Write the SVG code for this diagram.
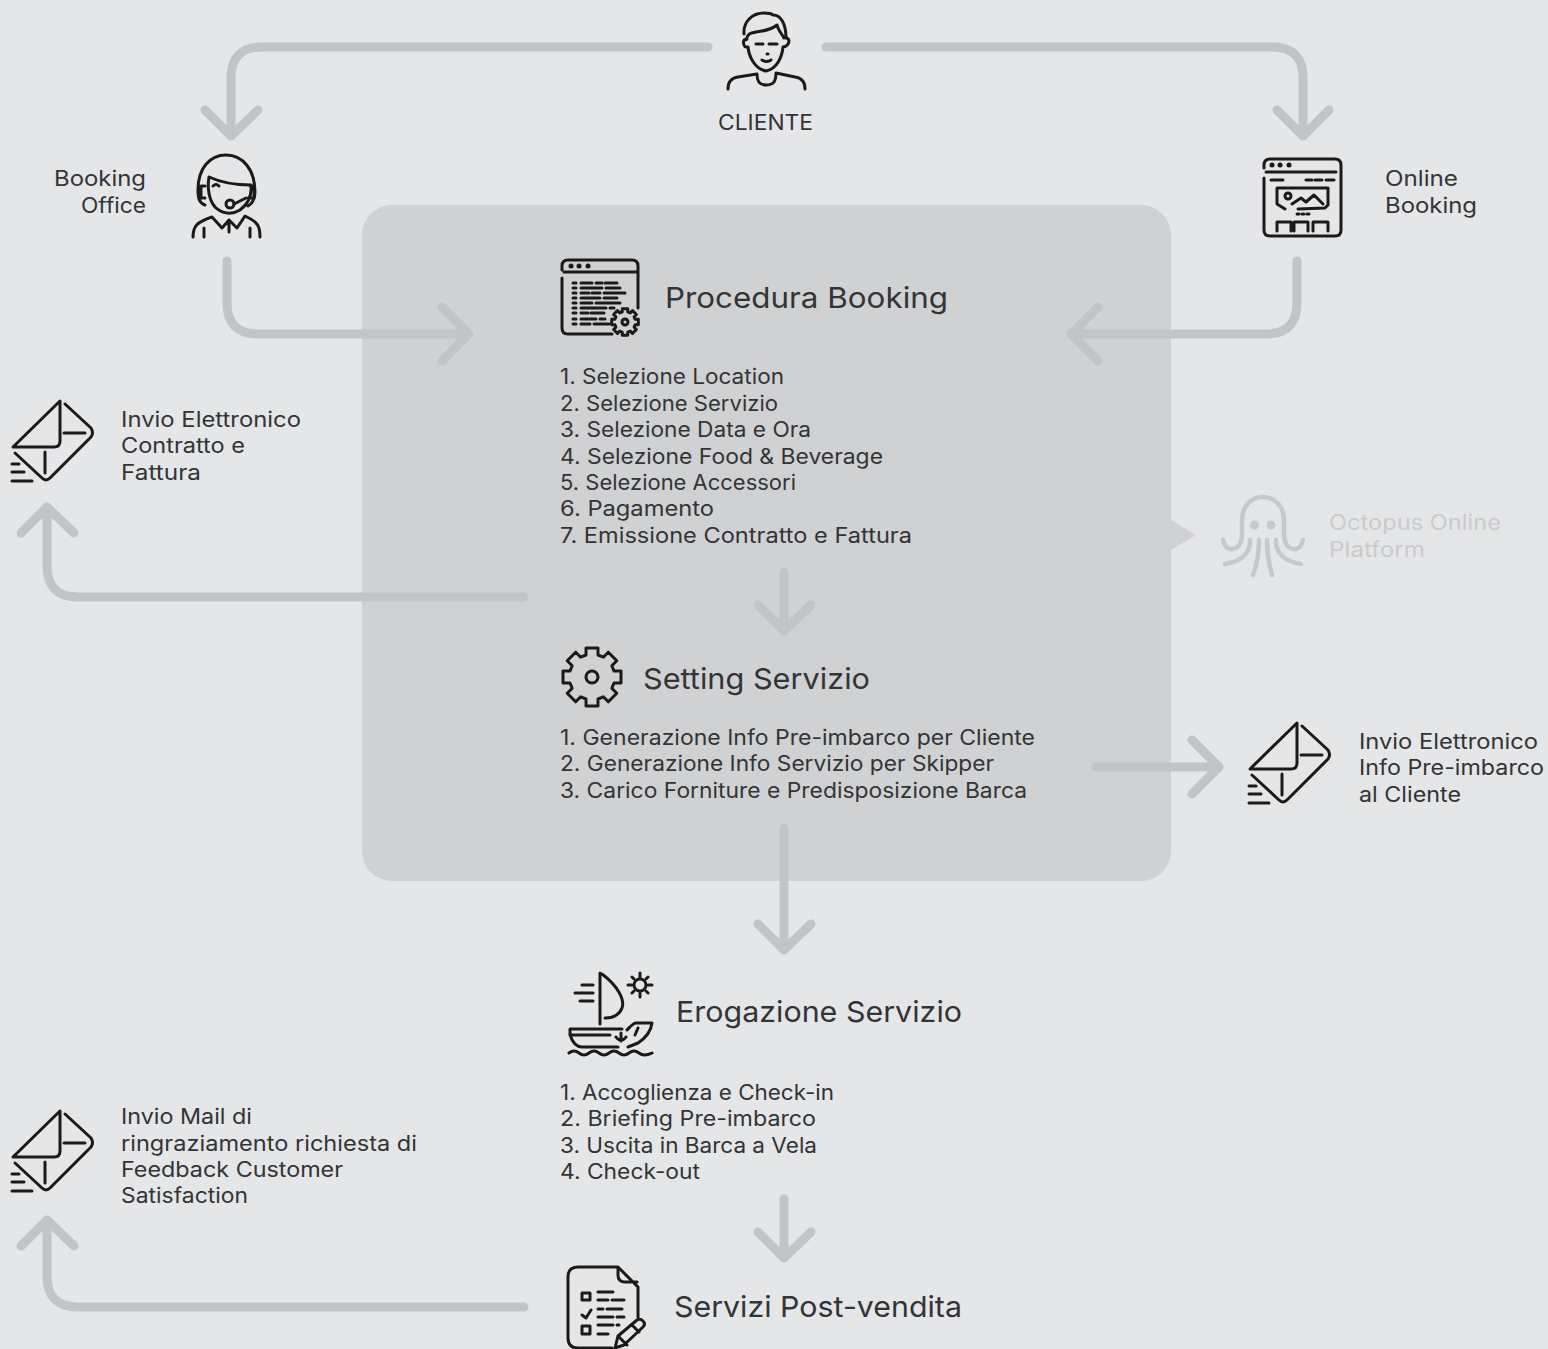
<svg xmlns="http://www.w3.org/2000/svg" width="1548" height="1349" viewBox="0 0 1548 1349">
<style>
text{font-family:"Inter","Liberation Sans",sans-serif;fill:#333436}
.b{font-size:21px}
.t{font-size:29px}
.o{fill:#c9cbcd}
.c{fill:none;stroke:#c2c4c6;stroke-width:9;stroke-linecap:round;stroke-linejoin:round}
.i{fill:none;stroke:#1a1a1a;stroke-width:3;stroke-linecap:round;stroke-linejoin:round}
.d{stroke-width:5}
</style>
<defs>
<g id="env"><path d="M60 401V441Q60 447 54 447H13ZM65 404L91 428Q94 433 91 437L50 478Q46 482 42 478L15 453M64 433H85M45 452V473M12 464H19M12 472H24M12 481H32"/></g>
<path id="gear" d="M-6 -29H6V-22L11.3 -19.800L16.300 -24.800L24.800 -16.300L19.800 -11.300L22 -6H29V6H22L19.800 11.300L24.800 16.300L16.300 24.800L11.300 19.800L6 22V29H-6V22L-11.300 19.800L-16.300 24.800L-24.800 16.300L-19.800 11.300L-22 6H-29V-6H-22L-19.800 -11.300L-24.800 -16.300L-16.300 -24.800L-11.300 -19.800L-6 -22Z"/>
</defs>
<rect width="1548" height="1349" fill="#e5e6e8"/>
<g id="box"><rect x="362" y="205" width="809" height="676" rx="30" fill="#d0d1d3"/><path d="M1171 520L1196 535L1171 550Z" fill="#d0d1d3"/></g>
<g id="connectors" class="c">
<path d="M708 47H262Q231 47 231 78V135M205 110L231 136L258 110"/>
<path d="M826 47H1272Q1303 47 1303 78V135M1277 110L1303 136L1329 110"/>
<path d="M227 261V303Q227 334 258 334H468M442 307L469 334L442 361"/>
<path d="M1297 261V303Q1297 334 1266 334H1072M1098 307L1071 334L1098 361"/>
<path d="M524 597H78Q47 597 47 566V507M21 533L47 507L74 533"/>
<path d="M784 572V630M758 605L784 631L811 605"/>
<path d="M1096 767H1219M1192 740L1219 767L1192 794"/>
<path d="M784 828V950M758 924L784 950L811 924"/>
<path d="M784 1199V1257M758 1232L784 1258L811 1232"/>
<path d="M524 1307H78Q47 1307 47 1276V1220M21 1246L47 1220L74 1246"/>
</g>
<g id="cliente">
<g class="i"><path d="M744 34C743 22 752 13 764 13C768 13 771 13 773 15C781 15 786 24 786 38M746 40C748 32 752 33 756 32C764 31 771 30 777 25C778 30 782 34 784 38M747 39C743 39 743 42 744 45C745 48 748 47 748 47C749 57 755 69 766 71C777 69 782 57 783 47C786 47 789 44 789 41C789 39 787 38 786 37M756 44H763M769 44H777M767 54H768M762 60Q767 63 771 60M728 89C728 82 731 78 738 77L757 74C757 82 760 85 766 85C773 85 776 82 776 73L795 77C802 78 805 83 805 89"/></g>
<text class="b" x="718" y="130" textLength="95" lengthAdjust="spacingAndGlyphs">CLIENTE</text>
</g>
<g id="booking-office">
<g class="i"><path d="M205 205C199 203 198 198 198 190C198 168 210 155 226 155C243 155 255 170 255 192C255 199 253 203 248 206M209 177C222 183 236 185 251 185C252 195 248 204 240 210C232 215 222 214 215 207C209 200 207 188 209 177ZM205 186H201V198H205M250 186H254V198H248M213 186Q216 183 219 186M234 204L246 198"/><circle cx="230" cy="204" r="4"/><path d="M193 237C193 226 197 222 212 217L222 228L229 220L237 228L245 216C258 222 260 226 260 237M204 237V228M250 237V228M229 220V232"/></g>
<text class="b" x="146" y="186" text-anchor="end" textLength="92" lengthAdjust="spacingAndGlyphs">Booking</text>
<text class="b" x="146" y="213" text-anchor="end" textLength="65" lengthAdjust="spacingAndGlyphs">Office</text>
</g>
<g id="online-booking">
<g class="i"><path d="M1264 168V165Q1264 159 1270 159H1335Q1341 159 1341 165V230Q1341 236 1335 236H1270Q1264 236 1264 230V178M1266 172H1336M1271 180H1283M1306 180H1312M1315 180H1322M1326 180H1334M1277 188H1328V205L1325 208L1298 209M1277 188V204L1285 209M1292 204L1301 198L1306 202L1314 195L1323 204"/><circle cx="1288" cy="196" r="3"/><path d="M1277 231V222H1291V231M1294 231V222H1308V231M1313 231V222H1328V231"/><path class="d" d="M1272 165H1272.100M1280 165H1280.100M1289 165H1289.100"/><path stroke-width="3" d="M1297 214H1299M1302 214H1304M1307 214H1309"/></g>
<text class="b" x="1385" y="186" textLength="73" lengthAdjust="spacingAndGlyphs">Online</text>
<text class="b" x="1385" y="213" textLength="92" lengthAdjust="spacingAndGlyphs">Booking</text>
</g>
<g id="procedura-booking">
<g class="i"><path d="M562 270V266Q562 260 568 260H632Q638 260 638 266V308M562 278V328Q562 334 568 334H612M564 272H636"/><path class="d" d="M571 266H571.100M579 266H579.100M588 266H588.100"/>
<path d="M573 283H576M581 283H592M596 283H602M605 283H617M573 288H576M581 288H602M606 288H620M573 293H576M581 293H589M592 293H600M604 293H625M573 298H576M581 298H600M604 298H617M573 303H576M581 303H592M596 303H620M573 308H576M581 308H606M610 308H614M573 313H576M581 313H588M591 313H604M573 319H576M581 319H596M600 319H605M573 324H576M581 324H590M594 324H609"/>
<use href="#gear" transform="translate(625 322) scale(.46)" stroke-width="6.500"/><circle cx="625" cy="322" r="3"/></g>
<text class="t" x="665" y="308" textLength="283" lengthAdjust="spacingAndGlyphs">Procedura Booking</text>
<text class="b" x="560" y="384" textLength="224" lengthAdjust="spacingAndGlyphs">1. Selezione Location</text>
<text class="b" x="560" y="411" textLength="218" lengthAdjust="spacingAndGlyphs">2. Selezione Servizio</text>
<text class="b" x="560" y="437" textLength="251" lengthAdjust="spacingAndGlyphs">3. Selezione Data e Ora</text>
<text class="b" x="560" y="464" textLength="323" lengthAdjust="spacingAndGlyphs">4. Selezione Food &amp; Beverage</text>
<text class="b" x="560" y="490" textLength="236" lengthAdjust="spacingAndGlyphs">5. Selezione Accessori</text>
<text class="b" x="560" y="516" textLength="154" lengthAdjust="spacingAndGlyphs">6. Pagamento</text>
<text class="b" x="560" y="543" textLength="352" lengthAdjust="spacingAndGlyphs">7. Emissione Contratto e Fattura</text>
</g>
<g id="invio-contratto">
<use href="#env" class="i"/>
<text class="b" x="121" y="427" textLength="180" lengthAdjust="spacingAndGlyphs">Invio Elettronico</text>
<text class="b" x="121" y="453" textLength="124" lengthAdjust="spacingAndGlyphs">Contratto e</text>
<text class="b" x="121" y="480" textLength="80" lengthAdjust="spacingAndGlyphs">Fattura</text>
</g>
<g id="octopus">
<g fill="none" stroke="#c6c8ca" stroke-width="4.500" stroke-linecap="round"><path d="M1223 540C1224 546 1228 550 1233 549C1239 548 1242 542 1242 534V520C1242 507 1251 497 1263 497C1275 497 1284 507 1284 520V534C1284 542 1287 548 1293 549C1298 550 1302 546 1303 540M1250 540C1251 553 1240 562 1225 564M1276 540C1275 553 1286 562 1301 564M1259 540C1259 553 1257 564 1253 575M1267 540C1267 553 1269 564 1272 575"/><circle cx="1254.500" cy="525" r="2.200"/><circle cx="1271" cy="525" r="2.200"/></g>
<text class="b o" x="1329" y="530" textLength="172" lengthAdjust="spacingAndGlyphs">Octopus Online</text>
<text class="b o" x="1329" y="557" textLength="96" lengthAdjust="spacingAndGlyphs">Platform</text>
</g>
<g id="setting-servizio">
<g class="i"><use href="#gear" transform="translate(592 677)"/><circle cx="592" cy="677" r="6"/></g>
<text class="t" x="643" y="689" textLength="227" lengthAdjust="spacingAndGlyphs">Setting Servizio</text>
<text class="b" x="560" y="745" textLength="475" lengthAdjust="spacingAndGlyphs">1. Generazione Info Pre-imbarco per Cliente</text>
<text class="b" x="560" y="771" textLength="434" lengthAdjust="spacingAndGlyphs">2. Generazione Info Servizio per Skipper</text>
<text class="b" x="560" y="798" textLength="467" lengthAdjust="spacingAndGlyphs">3. Carico Forniture e Predisposizione Barca</text>
</g>
<g id="invio-info">
<use href="#env" class="i" transform="translate(1237 322)"/>
<text class="b" x="1359" y="749" textLength="179" lengthAdjust="spacingAndGlyphs">Invio Elettronico</text>
<text class="b" x="1359" y="775" textLength="185" lengthAdjust="spacingAndGlyphs">Info Pre-imbarco</text>
<text class="b" x="1359" y="802" textLength="102" lengthAdjust="spacingAndGlyphs">al Cliente</text>
</g>
<g id="erogazione-servizio">
<g class="i"><path d="M600 973V1024M602 974C618 986 625 1000 622 1008C619 1016 612 1018 605 1018M582 985H593M575 993H593M580 1001H593"/><circle cx="640" cy="985" r="6"/><path d="M640 973V977M640 993V997M628 985H632M648 985H652M632 977L634 979M646 991L648 993M632 993L634 991M646 979L648 977M570 1029H622M570 1029V1035H610M621 1033V1041M616 1037Q621 1044 626 1037M570 1035C572 1041 576 1047 582 1047H618M627 1030C630 1027 633 1023 636 1023H652C651 1031 647 1037 638 1043L628 1047M635 1035L638 1028M569 1053Q574 1049 579 1053T589 1053T599 1053T609 1053T619 1053T629 1053T639 1053T652 1053"/></g>
<text class="t" x="676" y="1022" textLength="286" lengthAdjust="spacingAndGlyphs">Erogazione Servizio</text>
<text class="b" x="560" y="1100" textLength="274" lengthAdjust="spacingAndGlyphs">1. Accoglienza e Check-in</text>
<text class="b" x="560" y="1126" textLength="256" lengthAdjust="spacingAndGlyphs">2. Briefing Pre-imbarco</text>
<text class="b" x="560" y="1153" textLength="257" lengthAdjust="spacingAndGlyphs">3. Uscita in Barca a Vela</text>
<text class="b" x="560" y="1179" textLength="140" lengthAdjust="spacingAndGlyphs">4. Check-out</text>
</g>
<g id="servizi-post-vendita">
<g class="i"><path d="M638 1317V1287L618 1267H578Q568 1267 568 1277V1338Q568 1348 578 1348H612M618 1268V1275Q618 1282 625 1282H637M582 1293H590V1300H582ZM582 1326H590V1334H582ZM582 1315L586 1318L591 1310M598 1292H613M598 1300H608M612 1300H624M598 1309H603M607 1309H622M598 1317H613M617 1317H624M598 1325H613M617 1325H619M598 1334H608M615 1348L618 1336L637 1320Q640 1318 643 1321Q646 1324 643 1327L624 1345ZM618 1336L627 1345M632 1325L639 1332"/></g>
<text class="t" x="674" y="1317" textLength="288" lengthAdjust="spacingAndGlyphs">Servizi Post-vendita</text>
</g>
<g id="invio-mail">
<use href="#env" class="i" transform="translate(0 710)"/>
<text class="b" x="121" y="1124" textLength="131" lengthAdjust="spacingAndGlyphs">Invio Mail di</text>
<text class="b" x="121" y="1151" textLength="296" lengthAdjust="spacingAndGlyphs">ringraziamento richiesta di</text>
<text class="b" x="121" y="1177" textLength="222" lengthAdjust="spacingAndGlyphs">Feedback Customer</text>
<text class="b" x="121" y="1203" textLength="127" lengthAdjust="spacingAndGlyphs">Satisfaction</text>
</g>
</svg>
